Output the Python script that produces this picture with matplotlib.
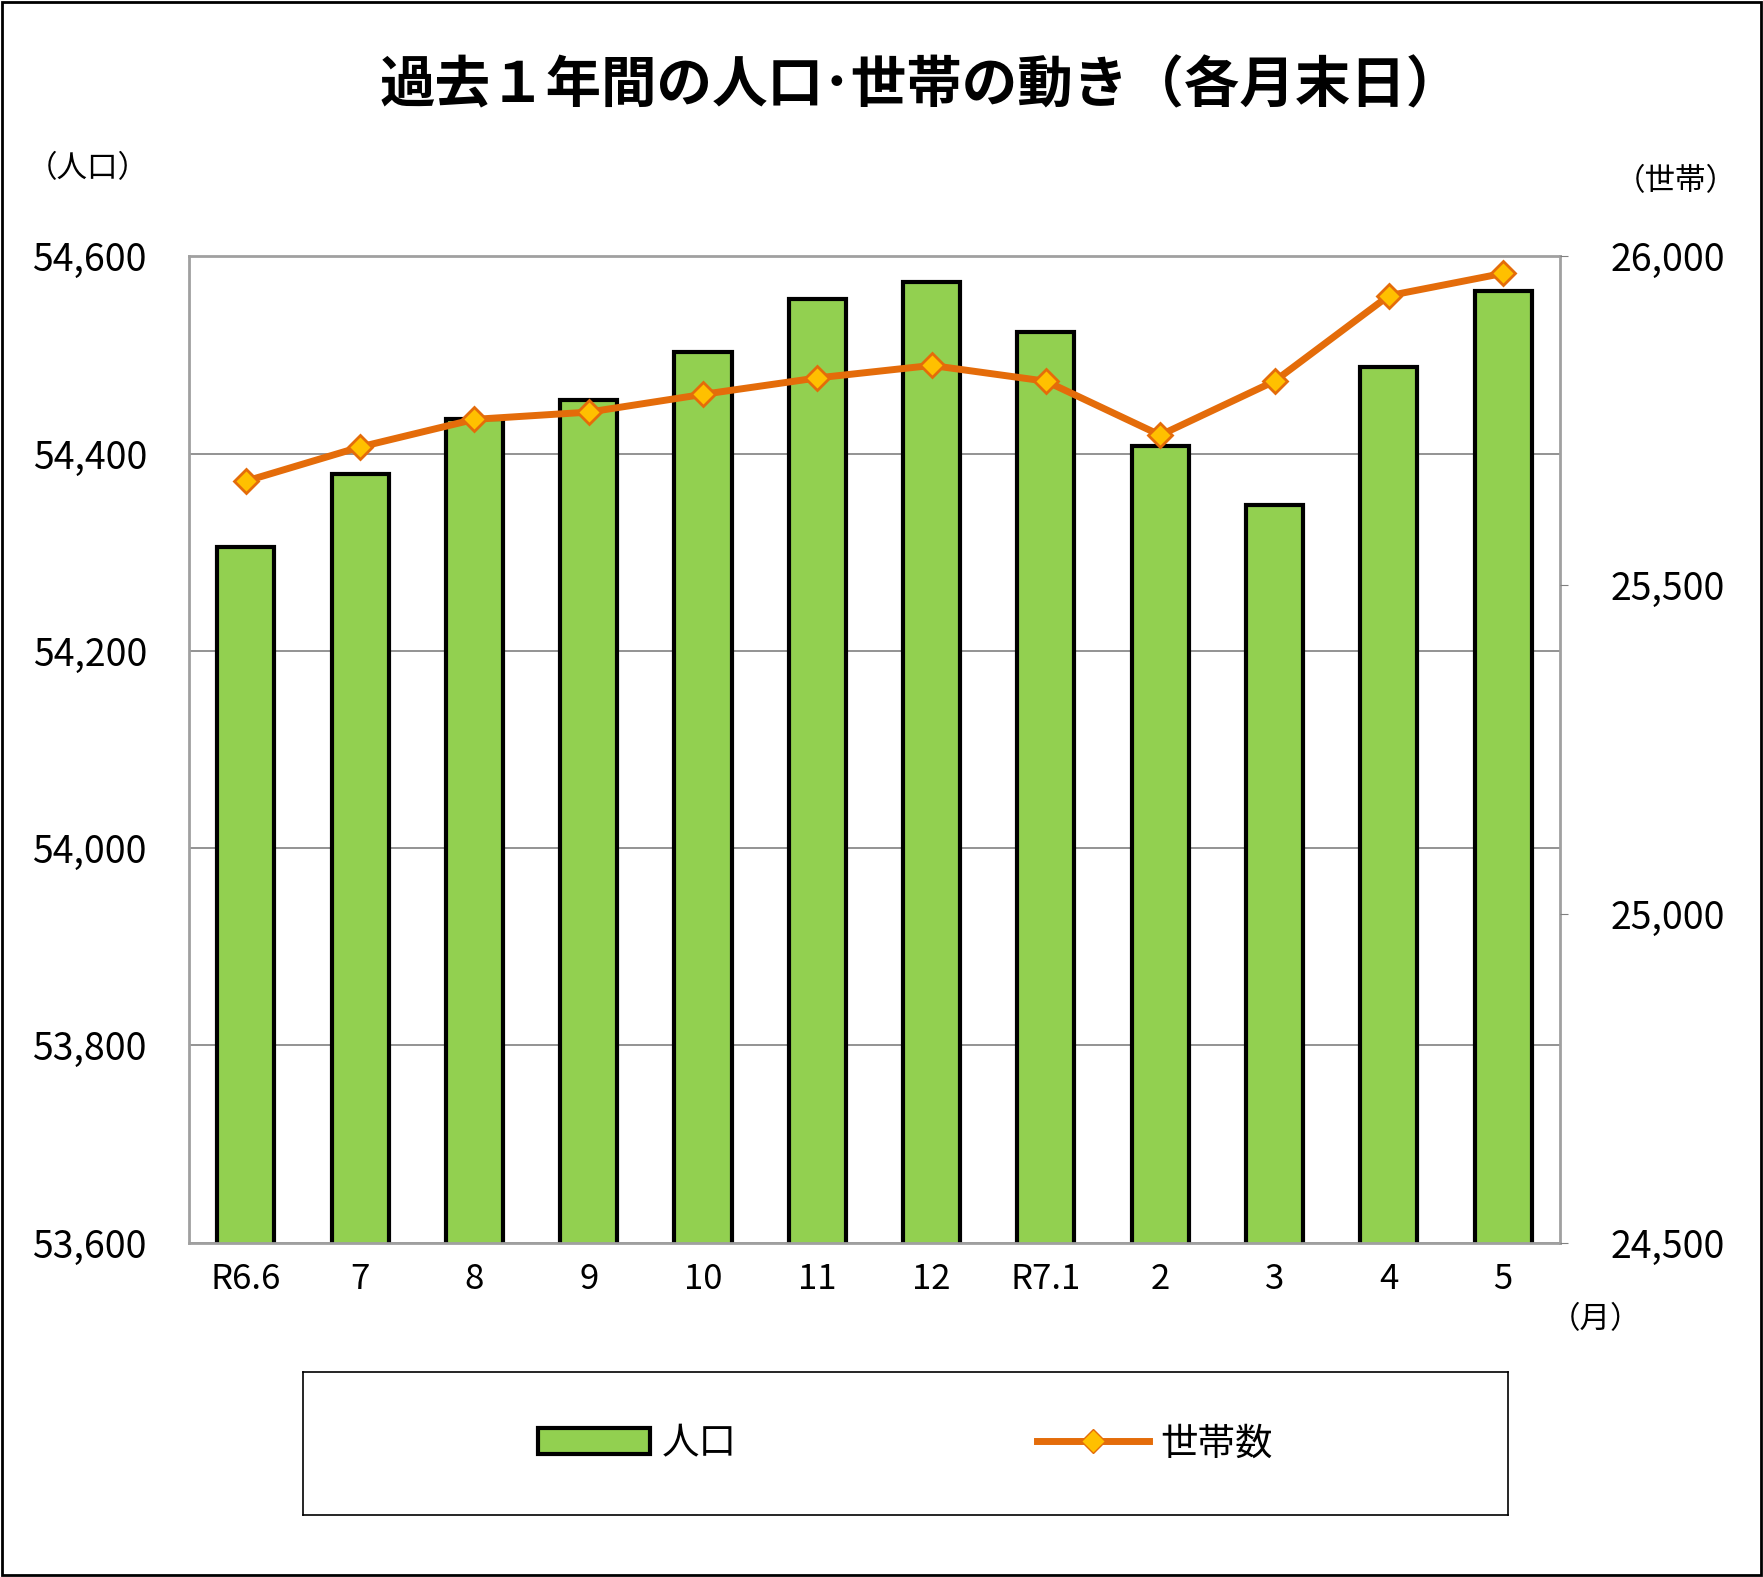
import matplotlib
matplotlib.use("Agg")
import matplotlib.pyplot as plt
from matplotlib.patches import Rectangle
from matplotlib.lines import Line2D

plt.rcParams["font.family"] = "Noto Sans CJK JP"

months = ["R6.6", "7", "8", "9", "10", "11", "12", "R7.1", "2", "3", "4", "5"]
population = [54305, 54379, 54435, 54454, 54503, 54557, 54574, 54523, 54408, 54348, 54488, 54565]
households = [25658, 25710, 25752, 25763, 25790, 25815, 25834, 25810, 25728, 25810, 25940, 25974]

fig = plt.figure(figsize=(17.63, 15.77), dpi=100)
fig.patches.append(Rectangle((0.001, 0.001), 0.998, 0.998, transform=fig.transFigure,
                             fill=False, edgecolor="black", linewidth=2))

ax = fig.add_axes([0.107, 0.212, 0.778, 0.6255])
x = range(len(months))
ax.bar(x, population, width=0.5, color="#92D050", edgecolor="black", linewidth=3, zorder=2)
ax.set_ylim(53600, 54600)
ax.set_yticks(range(53600, 54601, 200))
ax.set_yticklabels([f"{v:,}" for v in range(53600, 54601, 200)], fontsize=27)
ax.set_xlim(-0.5, len(months) - 0.5)
ax.set_xticks(list(x))
ax.set_xticklabels(months, fontsize=25)
ax.grid(axis="y", color="#808080", linewidth=1.2, zorder=0)
for s in ax.spines.values():
    s.set_color("#A0A0A0")
    s.set_linewidth(2)
ax.tick_params(axis="y", length=0, pad=30)
ax.tick_params(axis="x", length=0, pad=14)

ax2 = ax.twinx()
ax2.plot(list(x), households, color="#E46C0A", linewidth=5, marker="D", markersize=12,
         markerfacecolor="#FFC000", markeredgecolor="#E46C0A", markeredgewidth=2, zorder=3)
ax2.set_ylim(24500, 26000)
ax2.set_yticks(range(24500, 26001, 500))
ax2.set_yticklabels([f"{v:,}" for v in range(24500, 26001, 500)], fontsize=27)
ax2.tick_params(axis="y", length=6, color="#808080", pad=30)
for s in ax2.spines.values():
    s.set_visible(False)

fig.text(0.522, 0.945, "過去１年間の人口･世帯の動き（各月末日）", ha="center", va="center",
         fontsize=40, fontweight="bold")
fig.text(0.015, 0.893, "（人口）", ha="left", va="center", fontsize=22)
fig.text(0.985, 0.885, "（世帯）", ha="right", va="center", fontsize=22)
fig.text(0.905, 0.163, "（月）", ha="center", va="center", fontsize=22)

lax = fig.add_axes([0.1716, 0.039, 0.684, 0.091])
lax.set_xticks([]); lax.set_yticks([])
for s in lax.spines.values():
    s.set_linewidth(1.2)
h1 = Rectangle((0, 0), 1, 1, facecolor="#92D050", edgecolor="black", linewidth=3)
h2 = Line2D([], [], color="#E46C0A", linewidth=5, marker="D", markersize=12,
            markerfacecolor="#FFC000", markeredgecolor="#E46C0A")
lax.legend([h1, h2], ["人口", "世帯数"], loc="center", ncol=2, frameon=False,
           fontsize=27, columnspacing=8, handlelength=3, handletextpad=0.3)

fig.savefig("out.png", dpi=100)
